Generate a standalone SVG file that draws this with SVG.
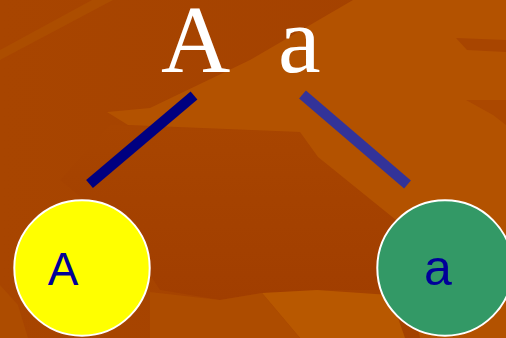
<svg xmlns="http://www.w3.org/2000/svg" width="506" height="338" viewBox="0 0 506 338">
<defs>
<linearGradient id="darkFade" x1="0" y1="0" x2="0" y2="1">
<stop offset="0" stop-color="#a84500"/>
<stop offset="1" stop-color="#a13e00"/>
</linearGradient>
<linearGradient id="topFade" x1="0" y1="0" x2="1" y2="0">
<stop offset="0" stop-color="#a84500"/>
<stop offset="1" stop-color="#a34100"/>
</linearGradient>
</defs>
<style>
.bg-light{fill:#b35200}
.bg-soft{fill:#ad4c00}
.title{font-family:"Liberation Serif","Times New Roman",serif;font-size:96px;fill:#ffffff}
.node circle{stroke:#ffffff;stroke-width:2}
.node text{font-family:"Liberation Sans",Arial,sans-serif;fill:#000099;text-anchor:middle}
.edge{stroke-width:10.5;stroke-linecap:butt;fill:none}
</style>
<g id="background">
<rect x="0" y="0" width="506" height="338" fill="url(#topFade)"/>
<polygon fill="url(#darkFade)" points="110,125 300,132 318,157 396,220 400,290 330,290 262,293 220,300 160,290 120,230 60,180"/>
<polygon class="bg-light" points="353,0 506,0 506,338 420,338 396,220 318,157 300,132 128,125 107,112 150,108 250,60"/>
<polygon fill="#a84500" points="456,38 506,40 506,52 467,50"/>
<polygon fill="#ab4800" points="466,100 493,115 506,125 506,100"/>
<polygon fill="#ac4d00" points="0,50 92,0 113,0 0,60"/>
<polygon fill="#b85800" points="262,293 317,290 390,295 405,338 300,338"/>
<polygon class="bg-soft" points="150,292 220,300 262,293 300,338 150,338"/>
<polygon class="bg-soft" points="0,285 18,305 28,338 0,338"/>
</g>
<g id="title">
<text class="title" x="161" y="72">A</text>
<text class="title" x="278" y="72">a</text>
</g>
<g id="connectors">
<line class="edge" x1="194" y1="95.5" x2="89.5" y2="184" stroke="#000080"/>
<line class="edge" x1="302.5" y1="94.5" x2="407.5" y2="184.5" stroke="#333399"/>
</g>
<g id="node-A" class="node">
<circle cx="82" cy="268" r="67.7" fill="#ffff00"/>
<text x="63" y="285" font-size="46">A</text>
</g>
<g id="node-a" class="node">
<circle cx="445" cy="268" r="67.7" fill="#339966"/>
<text x="438" y="285" font-size="50">a</text>
</g>
</svg>
